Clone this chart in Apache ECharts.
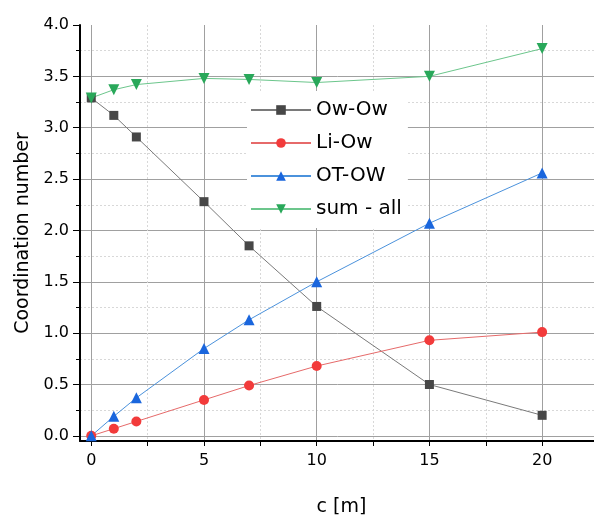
<!DOCTYPE html>
<html>
<head>
<meta charset="utf-8">
<script src="https://cdn.jsdelivr.net/npm/echarts@6/dist/echarts.min.js"></script>
<style>
html, body { margin: 0; padding: 0; background: #fff; }
#main { width: 594px; height: 516px; }
</style>
</head>
<body>
<div id="main"></div>
<script>
var cValues = [0, 1, 2, 5, 7, 10, 15, 20];
var owOw = [3.29, 3.12, 2.91, 2.28, 1.85, 1.26, 0.50, 0.20];
var liOw = [0.00, 0.07, 0.14, 0.35, 0.49, 0.68, 0.93, 1.01];
var otOw = [0.00, 0.19, 0.37, 0.85, 1.13, 1.50, 2.07, 2.56];
var sumAll = [3.29, 3.37, 3.42, 3.48, 3.47, 3.44, 3.50, 3.77];

var xMajor = [0, 5, 10, 15, 20];
var xMinor = [2.5, 7.5, 12.5, 17.5];
var yMajor = [0, 0.5, 1.0, 1.5, 2.0, 2.5, 3.0, 3.5, 4.0];
var yMinor = [0.25, 0.75, 1.25, 1.75, 2.25, 2.75, 3.25, 3.75];

var font = 'DejaVu Sans';
var xMin = -0.5, xMax = 22.7;
var yMin = -0.05, yMax = 4.0;

// top line (4.0) has only a tick, no grid line
var yGrid = yMajor.filter(function (v) { return v < yMax; });

function pairs(ys) {
    return cValues.map(function (c, i) { return [c, ys[i]]; });
}

function makeSeries(name, ys, symbol, size, fill, stroke, rotate) {
    return {
        name: name,
        type: 'line',
        data: pairs(ys),
        symbol: symbol,
        symbolSize: size,
        symbolRotate: rotate || 0,
        itemStyle: { color: fill, opacity: 1 },
        lineStyle: { color: stroke, width: 1 },
        emphasis: { disabled: true }
    };
}

function helperY(ticks, len, grid) {
    return {
        type: 'value', min: yMin, max: yMax, position: 'left',
        axisLine: { show: false, onZero: false },
        axisLabel: { show: false },
        axisTick: { show: true, customValues: ticks, length: len, lineStyle: { color: '#000', width: 1 } },
        splitLine: grid
    };
}

var myChart = echarts.init(document.getElementById('main'));

var option = {
    backgroundColor: '#fff',
    animation: false,
    grid: { left: 80, right: -9, top: 25, bottom: 75, outerBoundsMode: 'none' },
    legend: {
        orient: 'vertical',
        left: 247,
        top: 91,
        padding: [9, 6, 9, 3],
        backgroundColor: '#fff',
        itemWidth: 60,
        itemHeight: 12,
        itemGap: 13,
        textStyle: { fontFamily: font, fontSize: 20, color: '#000' },
        data: ['Ow-Ow', 'Li-Ow', 'OT-OW', 'sum - all']
    },
    xAxis: [{
        type: 'value',
        min: xMin,
        max: xMax,
        name: 'c [m]',
        nameLocation: 'middle',
        nameGap: 57,
        nameTextStyle: { fontFamily: font, fontSize: 19, color: '#000' },
        axisLine: { onZero: false, lineStyle: { color: '#000', width: 2 } },
        axisTick: { show: true, customValues: xMajor, length: 5, lineStyle: { color: '#000', width: 1 } },
        axisLabel: {
            customValues: xMajor,
            margin: 12,
            fontFamily: font, fontSize: 16, color: '#000'
        },
        splitLine: { show: true, lineStyle: { color: '#a0a0a0', width: 1 } }
    }, {
        type: 'value',
        min: xMin,
        max: xMax,
        position: 'bottom',
        axisLine: { show: false, onZero: false },
        axisLabel: { show: false },
        axisTick: { show: true, customValues: xMinor, length: 5, lineStyle: { color: '#000', width: 1 } },
        splitLine: { show: true, lineStyle: { color: '#d8d8d8', width: 1, type: [2, 2] } }
    }],
    yAxis: [{
        type: 'value',
        min: yMin,
        max: yMax,
        name: 'Coordination number',
        nameLocation: 'middle',
        nameGap: 46,
        nameTextStyle: { fontFamily: font, fontSize: 19, color: '#000' },
        axisLine: { show: true, onZero: false, lineStyle: { color: '#000', width: 2 } },
        axisTick: { show: true, customValues: yGrid, length: 7, lineStyle: { color: '#000', width: 1 } },
        axisLabel: {
            customValues: yMajor,
            margin: 11,
            formatter: function (v) { return v.toFixed(1); },
            fontFamily: font, fontSize: 16, color: '#000'
        },
        splitLine: { show: true, lineStyle: { color: '#a0a0a0', width: 1 } }
    },
    helperY(yMinor, 4, { show: true, lineStyle: { color: '#d8d8d8', width: 1, type: [2, 2] } }),
    helperY([yMax], 7, { show: false })
    ],
    series: [
        makeSeries('Ow-Ow', owOw, 'rect', 9, '#474747', '#7a7a7a'),
        makeSeries('Li-Ow', liOw, 'circle', 10, '#f23b3b', '#e66a6a'),
        makeSeries('OT-OW', otOw, 'triangle', 11, '#1a66dd', '#4b92dc'),
        makeSeries('sum - all', sumAll, 'triangle', 11, '#29a85a', '#6cc68c', 180)
    ]
};

myChart.setOption(option);
</script>
</body>
</html>
